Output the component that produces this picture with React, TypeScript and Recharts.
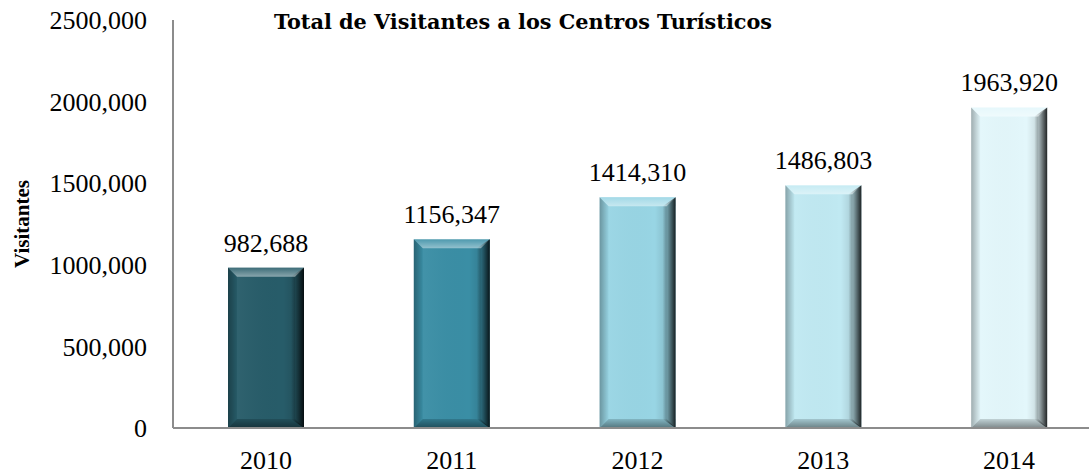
import { BarChart, Bar, Cell, XAxis, YAxis, LabelList } from "recharts"

const years = ["2010", "2011", "2012", "2013", "2014"]
const visitors = [982688, 1156347, 1414310, 1486803, 1963920]
const barColors = ["#275c69", "#3a8ea5", "#98d5e4", "#c0e9f2", "#e3f7fb"]
const yTicks = [0, 500000, 1000000, 1500000, 2000000, 2500000]

const data = years.map((year, i) => ({ year, visitors: visitors[i] }))

const FONT = "'Liberation Serif', 'Times New Roman', serif"
const TITLE_FONT = "'DejaVu Serif', serif"

// Excel writes these as "2500,000" / "982,688"
function fmt(v: number): string {
  if (v < 1000) return String(v)
  const thousands = Math.floor(v / 1000)
  const rest = String(v % 1000).padStart(3, "0")
  return `${thousands},${rest}`
}

// bevelled bar: flat face plus four shaded edges
function BevelBar(props: any) {
  const { x, y, width, height, fill } = props
  if (!height || height <= 0) return null
  const b = Math.min(9, width / 4, height / 4)
  const r = x + width
  const btm = y + height
  return (
    <g>
      <rect x={x} y={y} width={width} height={height} fill={fill} />
      <rect x={x + b} y={y + b} width={width - 2 * b} height={height - 2 * b} fill="url(#faceShade)" />
      <polygon points={`${x},${y} ${x + b},${y + b} ${x + b},${btm - b} ${x},${btm}`} fill="url(#leftShade)" />
      <polygon points={`${r},${y} ${r - b - 4},${y + b} ${r - b - 4},${btm - b} ${r},${btm}`} fill="url(#rightShade)" />
      <polygon points={`${x},${y} ${r},${y} ${r - b},${y + b} ${x + b},${y + b}`} fill="url(#topShade)" />
      <polygon points={`${x},${btm} ${r},${btm} ${r - b},${btm - b} ${x + b},${btm - b}`} fill="url(#bottomShade)" />
    </g>
  )
}

function YLabel(props: any) {
  const vb = props.viewBox || { x: 0, y: 0, height: 0 }
  const cx = vb.x + 22
  const cy = vb.y + vb.height / 2
  return (
    <text
      x={cx}
      y={cy}
      transform={`rotate(-90, ${cx}, ${cy})`}
      textAnchor="middle"
      dominantBaseline="central"
      fontFamily={FONT}
      fontWeight="bold"
      fontSize={21}
      fill="#000"
    >
      Visitantes
    </text>
  )
}

export default function App() {
  return (
    <div
      style={{
        position: "absolute",
        left: 0,
        top: 0,
        width: 1089,
        height: 475,
        overflow: "hidden",
        background: "#fff",
      }}
    >
      <div
        style={{
          position: "absolute",
          left: 223,
          top: 9,
          width: 600,
          textAlign: "center",
          fontFamily: TITLE_FONT,
          fontWeight: "bold",
          fontSize: 20.8,
          whiteSpace: "nowrap",
          zIndex: 1,
        }}
      >
        Total de Visitantes a los Centros Turísticos
      </div>
      <BarChart
        width={1110}
        height={475}
        data={data}
        margin={{ top: 20, right: 8, bottom: 0, left: 0 }}
        barCategoryGap={0}
      >
        <defs>
          <linearGradient id="rightShade" x1="0" y1="0" x2="1" y2="0">
            <stop offset="0%" stopColor="#000" stopOpacity={0} />
            <stop offset="50%" stopColor="#000" stopOpacity={0.4} />
            <stop offset="100%" stopColor="#000" stopOpacity={0.85} />
          </linearGradient>
          <linearGradient id="leftShade" x1="0" y1="0" x2="1" y2="0">
            <stop offset="0%" stopColor="#000" stopOpacity={0.3} />
            <stop offset="100%" stopColor="#000" stopOpacity={0.02} />
          </linearGradient>
          <linearGradient id="topShade" x1="0" y1="0" x2="0" y2="1">
            <stop offset="0%" stopColor="#fff" stopOpacity={0.1} />
            <stop offset="100%" stopColor="#fff" stopOpacity={0.45} />
          </linearGradient>
          <linearGradient id="bottomShade" x1="0" y1="0" x2="0" y2="1">
            <stop offset="0%" stopColor="#000" stopOpacity={0.15} />
            <stop offset="100%" stopColor="#000" stopOpacity={0.45} />
          </linearGradient>
          <linearGradient id="faceShade" x1="0" y1="0" x2="1" y2="0">
            <stop offset="0%" stopColor="#fff" stopOpacity={0.04} />
            <stop offset="80%" stopColor="#000" stopOpacity={0} />
            <stop offset="100%" stopColor="#000" stopOpacity={0.12} />
          </linearGradient>
        </defs>
        <XAxis
          dataKey="year"
          height={47}
          tickSize={0}
          tickMargin={23}
          axisLine={{ stroke: "#8c8c8c", strokeWidth: 2 }}
          tick={{ fontFamily: FONT, fontSize: 26, fill: "#000" }}
        />
        <YAxis
          width={173}
          domain={[0, 2500000]}
          ticks={yTicks}
          interval={0}
          tickSize={0}
          tickMargin={26}
          tickFormatter={fmt}
          axisLine={{ stroke: "#8c8c8c", strokeWidth: 2 }}
          tick={{ fontFamily: FONT, fontSize: 26, fill: "#000" }}
          label={<YLabel />}
        />
        <Bar dataKey="visitors" barSize={76} shape={<BevelBar />} isAnimationActive={false}>
          {data.map((d, i) => (
            <Cell key={d.year} fill={barColors[i]} />
          ))}
          <LabelList
            dataKey="visitors"
            position="top"
            offset={16}
            formatter={(v: any) => fmt(Number(v))}
            style={{ fontFamily: FONT, fontSize: 26, fill: "#000" }}
          />
        </Bar>
      </BarChart>
    </div>
  )
}
